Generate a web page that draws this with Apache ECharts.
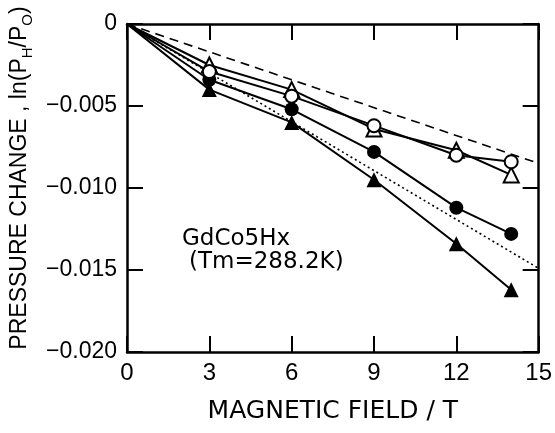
<!DOCTYPE html>
<html>
<head>
<meta charset="utf-8">
<script src="https://cdn.jsdelivr.net/npm/echarts@6/dist/echarts.min.js"></script>
<style>
  html, body { margin: 0; padding: 0; background: #fff; }
  #chart { width: 555px; height: 433px; }
</style>
</head>
<body>
<div id="chart"></div>
<script>
// Magnetic field (T) at which the pressure change was measured
const fields = [0, 3, 6, 9, 12, 14];

// ln(PH/P0) for each sample run
const openTriangle   = [0, -0.0025, -0.0040, -0.0064, -0.0077, -0.0092];
const openCircle     = [0, -0.0029, -0.0044, -0.0062, -0.0080, -0.0084];
const filledCircle   = [0, -0.0034, -0.0052, -0.0078, -0.0112, -0.0128];
const filledTriangle = [0, -0.0040, -0.0060, -0.0095, -0.0134, -0.0162];

// Reference straight lines from the origin
const dashedLine = [[0, 0], [15, -0.0085]];
const dottedLine = [[0, 0], [15, -0.0149]];

const xTicks = [0, 3, 6, 9, 12, 15];
const yTicks = [0, -0.005, -0.010, -0.015, -0.020];

const FONT = '"Liberation Sans", Arial, sans-serif';
const FONT_WIDE = '"DejaVu Sans", sans-serif';

function pairs(values, symbol, size, filled) {
  return values.map((v, i) => {
    const item = { value: [fields[i], v] };
    if (fields[i] === 0) item.symbol = 'none';
    return item;
  });
}

function markerSeries(values, symbol, size, filled) {
  return {
    type: 'line',
    data: pairs(values),
    symbol: symbol,
    symbolSize: size,
    showAllSymbol: true,
    lineStyle: { color: '#000', width: 2 },
    itemStyle: {
      color: filled ? '#000' : '#fff',
      borderColor: '#000',
      borderWidth: filled ? 0 : 2
    },
    z: 3,
    animation: false
  };
}

const tickStyle = { show: true, inside: true, length: 16, lineStyle: { color: '#000', width: 2 } };
const lineStyle = { show: true, onZero: false, lineStyle: { color: '#000', width: 2.5 } };

const chart = echarts.init(document.getElementById('chart'), null, { renderer: 'canvas' });
chart.setOption({
  backgroundColor: '#fff',
  animation: false,
  grid: { left: 127, right: 10, top: 24, bottom: 81 },
  xAxis: [
    {
      type: 'value', min: 0, max: 15, interval: 3, position: 'bottom',
      axisLine: lineStyle, axisTick: tickStyle, splitLine: { show: false },
      axisLabel: { color: '#000', fontFamily: FONT, fontSize: 24, margin: 9,
        formatter: v => xTicks.includes(v) ? String(v) : '' },
      name: 'MAGNETIC FIELD / T', nameLocation: 'middle', nameGap: 47,
      nameTextStyle: { color: '#000', fontFamily: FONT_WIDE, fontSize: 25 }
    },
    {
      type: 'value', min: 0, max: 15, interval: 3, position: 'top',
      axisLine: lineStyle, axisTick: tickStyle, splitLine: { show: false },
      axisLabel: { show: false }
    }
  ],
  yAxis: [
    {
      type: 'value', min: -0.02, max: 0, interval: 0.005, position: 'left',
      axisLine: lineStyle, axisTick: tickStyle, splitLine: { show: false },
      axisLabel: { color: '#000', fontFamily: FONT, fontSize: 23, margin: 10,
        formatter: v => {
          const t = yTicks.find(k => Math.abs(k - v) < 1e-9);
          if (t === undefined) return '';
          return t === 0 ? '0' : '\u2212' + Math.abs(t).toFixed(3);
        } },
      name: '{a|PRESSURE CHANGE , ln(P}{s|H}{a|/P}{s|O}{a|)}',
      nameLocation: 'middle', nameGap: 94, nameRotate: 90,
      nameTextStyle: {
        color: '#000', padding: [0, 0, 0, 20],
        rich: {
          a: { fontFamily: FONT, fontSize: 23, color: '#000', verticalAlign: 'bottom' },
          s: { fontFamily: FONT, fontSize: 15, color: '#000', verticalAlign: 'bottom', padding: [0, 0, -4, 0] }
        }
      }
    },
    {
      type: 'value', min: -0.02, max: 0, interval: 0.005, position: 'right',
      axisLine: lineStyle, axisTick: tickStyle, splitLine: { show: false },
      axisLabel: { show: false }
    }
  ],
  series: [
    {
      type: 'line', data: dashedLine, symbol: 'none',
      lineStyle: { color: '#000', width: 1.6, type: [9, 6] }, z: 2
    },
    {
      type: 'line', data: dottedLine, symbol: 'none',
      lineStyle: { color: '#000', width: 1.6, type: [2, 3] }, z: 2
    },
    markerSeries(openTriangle, 'triangle', 15, false),
    markerSeries(filledTriangle, 'triangle', 15, true),
    markerSeries(filledCircle, 'circle', 14, true),
    markerSeries(openCircle, 'circle', 13, false)
  ],
  graphic: [
    { type: 'text', left: 182, top: 228,
      style: { text: 'GdCo5Hx', font: '23px ' + FONT_WIDE, fill: '#000' } },
    { type: 'text', left: 189, top: 251,
      style: { text: '(Tm=288.2K)', font: '23px ' + FONT_WIDE, fill: '#000' } }
  ]
});
</script>
</body>
</html>
